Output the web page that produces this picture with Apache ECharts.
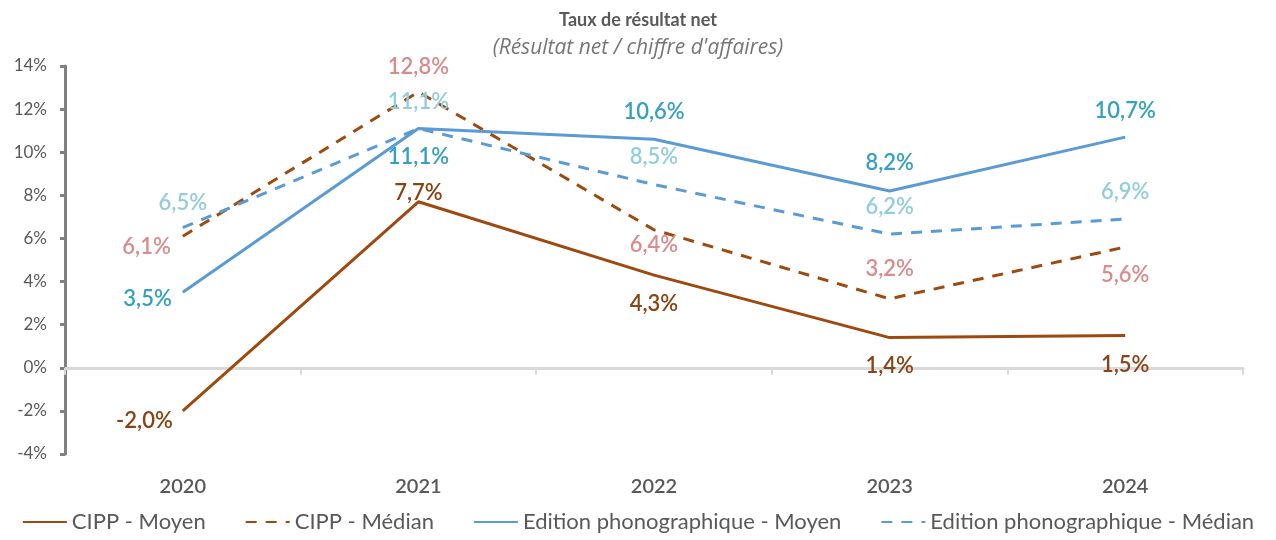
<!DOCTYPE html>
<html>
<head>
<meta charset="utf-8">
<script src="https://cdn.jsdelivr.net/npm/echarts@6/dist/echarts.min.js"></script>
<style>
  html, body { margin: 0; padding: 0; background: #fff; }
  #chart { width: 1276px; height: 540px; }
</style>
</head>
<body>
<div id="chart"></div>
<script>
// données (en %)
const years = ['2020', '2021', '2022', '2023', '2024'];
const cippMoyen = [-2.0, 7.7, 4.3, 1.4, 1.5];
const cippMedian = [6.1, 12.8, 6.4, 3.2, 5.6];
const editionMoyen = [3.5, 11.1, 10.6, 8.2, 10.7];
const editionMedian = [6.5, 11.1, 8.5, 6.2, 6.9];
const yTicks = [-4, -2, 0, 2, 4, 6, 8, 10, 12, 14];

// placement des étiquettes, point par point : [position, distance, décalage vertical]
const posCippMoyen = [['left', 10, 10], ['top', -2, 0], ['bottom', 18, 0], ['bottom', 17, 0], ['bottom', 18, 0]];
const posCippMedian = [['left', 12, 11], ['top', 14, 0], ['bottom', 4, 0], ['top', 19, 0], ['bottom', 17, 0]];
const posEditionMoyen = [['left', 11, 7], ['bottom', 17, 0], ['top', 16, 0], ['top', 17, 0], ['top', 15, 0]];
const posEditionMedian = [['top', 14, 0], ['top', 16, 0], ['top', 17, 0], ['top', 16, 0], ['top', 16, 0]];

const FONT = 'Lato, "Open Sans", sans-serif';

function fmt(v) {
  return v.toFixed(1).replace('.', ',') + '%';
}

function withLabels(values, positions) {
  return values.map((v, i) => ({
    value: v,
    label: {
      position: positions[i][0],
      distance: positions[i][1],
      offset: [0, positions[i][2]]
    }
  }));
}

function lineSeries(name, values, positions, lineColor, labelColor, dashed) {
  return {
    name: name,
    type: 'line',
    data: withLabels(values, positions),
    symbol: 'circle',
    symbolSize: 0.1,
    showSymbol: true,
    itemStyle: { color: lineColor },
    lineStyle: {
      color: lineColor,
      width: 3,
      type: dashed ? [11, 9] : 'solid'
    },
    label: {
      show: true,
      color: labelColor,
      fontFamily: FONT,
      fontSize: 22,
      fontWeight: 600,
      formatter: p => fmt(p.value)
    },
    z: 3
  };
}

const chart = echarts.init(document.getElementById('chart'));

chart.setOption({
  backgroundColor: '#fff',
  animation: false,
  title: [
    {
      text: 'Taux de résultat net',
      left: 'center',
      top: 6,
      textStyle: { fontFamily: FONT, fontSize: 18, fontWeight: 'bold', color: '#595959' }
    },
    {
      text: "(Résultat net / chiffre d'affaires)",
      left: 'center',
      top: 33,
      textStyle: { fontFamily: '"Open Sans", sans-serif', fontSize: 21, fontStyle: 'italic', fontWeight: 'normal', color: '#767676' }
    }
  ],
  legend: {
    bottom: 2,
    left: 'center',
    itemWidth: 44,
    itemHeight: 14,
    itemGap: 39,
    itemStyle: { opacity: 0 },
    textStyle: { fontFamily: FONT, fontSize: 22, color: '#595959' },
    data: ['CIPP - Moyen', 'CIPP - Médian', 'Edition phonographique - Moyen', 'Edition phonographique - Médian']
  },
  grid: { left: 65, right: 33, top: 66, bottom: 86 },
  xAxis: [
    {
      type: 'category',
      data: years,
      axisLine: { show: false, onZero: false },
      axisTick: { show: false },
      axisLabel: { fontFamily: FONT, fontSize: 20, fontWeight: 600, color: '#595959', margin: 23 }
    },
    {
      type: 'category',
      data: years,
      position: 'bottom',
      axisLine: { show: true, onZero: true, lineStyle: { color: '#d9d9d9', width: 3 } },
      axisTick: { show: true, length: 7, lineStyle: { color: '#d9d9d9', width: 2 } },
      axisLabel: { show: false }
    }
  ],
  yAxis: {
    type: 'value',
    min: yTicks[0],
    max: yTicks[yTicks.length - 1],
    interval: 2,
    axisLine: { show: true, lineStyle: { color: '#808080', width: 3 } },
    axisTick: { show: true, length: 5, lineStyle: { color: '#808080', width: 3 } },
    splitLine: { show: false },
    axisLabel: {
      fontFamily: FONT,
      fontSize: 17,
      color: '#595959',
      margin: 18,
      formatter: v => v + '%'
    }
  },
  series: [
    lineSeries('CIPP - Moyen', cippMoyen, posCippMoyen, '#9e4a0f', '#8a4312', false),
    lineSeries('CIPP - Médian', cippMedian, posCippMedian, '#9e4a0f', '#d98c8c', true),
    lineSeries('Edition phonographique - Moyen', editionMoyen, posEditionMoyen, '#5b9bd5', '#35a0c2', false),
    lineSeries('Edition phonographique - Médian', editionMedian, posEditionMedian, '#5b9bd5', '#92cddc', true)
  ]
});
</script>
</body>
</html>
